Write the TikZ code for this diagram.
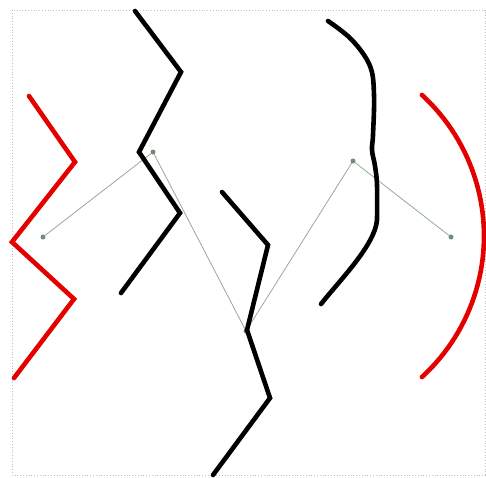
\documentclass[tikz,border=0pt]{standalone}
\begin{document}
\begin{tikzpicture}[x=1pt,y=-1pt,
  blackline/.style={draw=black,line width=4.6pt,line cap=round,line join=miter},
  redline/.style={draw=red!90!black,line width=4.6pt,line cap=round,line join=miter},
  ctrl/.style={draw=black!35!green!20!gray!70,line width=0.8pt},
  dot/.style={circle,fill=gray!90!green,inner sep=0pt,minimum size=5pt}]
\useasboundingbox (0,0) rectangle (486,477);
\draw[gray!50,dotted,line width=0.8pt] (12,10) rectangle (485,475);
% control polygon
\node[dot] (p0) at (43,237) {};
\node[dot] (p1) at (153,152) {};
\node[dot] (p2) at (246,331) {};
\node[dot] (p3) at (353,161) {};
\node[dot] (p4) at (451,237) {};
\draw[ctrl] (p0) -- (p1) -- (p2) -- (p3) -- (p4);
% red zigzag
\draw[redline] (29,96) -- (75,162) -- (12,242) -- (74,299) -- (14,378);
% red arc
\draw[redline] plot[domain=-47.5:47.5,samples=50] ({292.7+191.3*cos(\x)},{236+191.3*sin(\x)});
% black zigzag
\draw[blackline] (135,11) -- (181,72) -- (139,152) -- (180,213) -- (121,293);
% middle black
\draw[blackline] (222,192) -- (268,245) -- (247,330) -- (270,398) -- (213,475);
% right black curve
\draw[blackline] plot[smooth,tension=0.6] coordinates {(328,21) (352,40) (370,66) (374,95) (373,135) (372,150) (375,166) (377,185) (377,220)}
  .. controls (375,245) and (340,280) .. (321,304);
\end{tikzpicture}
\end{document}
